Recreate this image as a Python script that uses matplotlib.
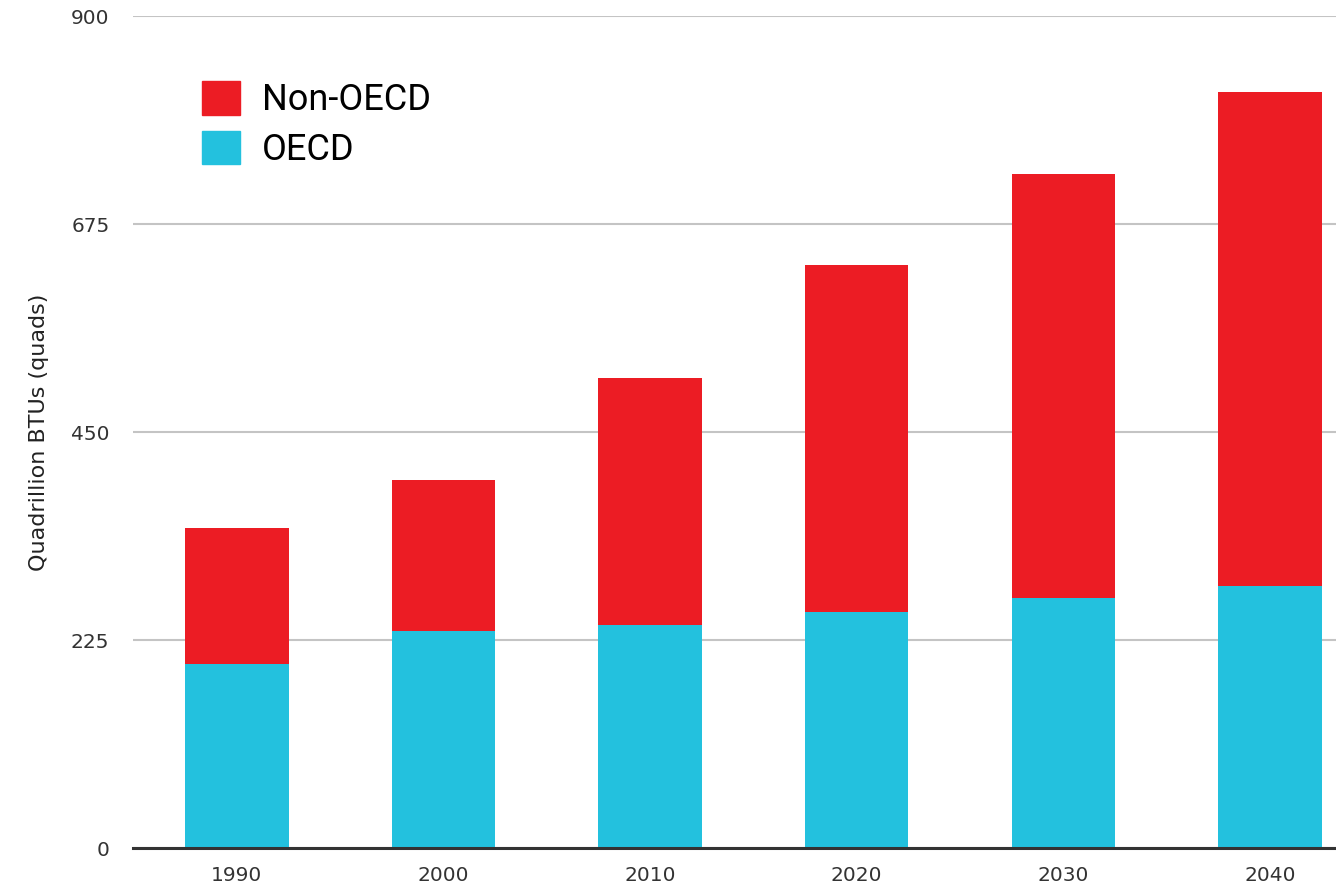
import matplotlib.pyplot as plt
import numpy as np
from matplotlib.patches import Patch

# Data
years = ["1990", "2000", "2010", "2020", "2030", "2040"]
oecd = [199, 235, 241, 255, 270, 283]
non_oecd = [147, 163, 267, 376, 459, 535]
y_ticks = [0, 225, 450, 675, 900]

red = "#ec1c24"
cyan = "#23c1de"

fig = plt.figure(figsize=(13.36, 8.91), dpi=100)
ax = fig.add_axes([133 / 1336, 1 - 848 / 891, 1 - 133 / 1336, (848 - 16) / 891])

index = np.arange(len(years))
ax.bar(index, oecd, width=0.5, color=cyan, zorder=3)
ax.bar(index, non_oecd, width=0.5, bottom=oecd, color=red, zorder=3)

ax.set_xlim(-0.503, 5.32)
ax.set_ylim(0, 900)
ax.set_yticks(y_ticks)
ax.set_xticks(index, years)
ax.yaxis.grid(True, color="#c4c4c4", linewidth=1.5, zorder=0)
ax.set_axisbelow(True)
for s in ["top", "right", "left"]:
    ax.spines[s].set_visible(False)
ax.spines["bottom"].set_color("#333333")
ax.spines["bottom"].set_linewidth(2.2)
ax.spines["bottom"].set_zorder(4)
ax.tick_params(axis="y", length=0, pad=17, labelsize=14.5, labelcolor="#333333")
ax.tick_params(axis="x", length=0, pad=13, labelsize=14.5, labelcolor="#333333")
ax.set_ylabel("Quadrillion BTUs (quads)", fontsize=16, color="#222222", labelpad=16)

handles = [Patch(color=red, label="Non-OECD"), Patch(color=cyan, label="OECD")]
ax.legend(handles=handles, loc="upper left", bbox_to_anchor=(0.0454, 0.939),
          frameon=False, prop={"family": "Roboto", "size": 26},
          handlelength=1.05, handleheight=1.05, handletextpad=0.6, labelspacing=0.35,
          borderaxespad=0)

fig.savefig("out.png", dpi=100)
